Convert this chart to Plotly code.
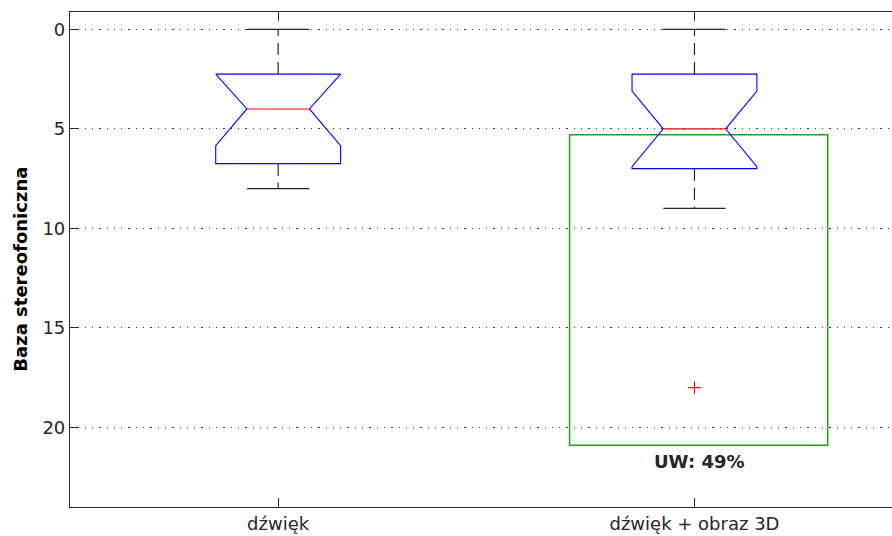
import plotly.graph_objects as go

# Notched box plot statistics per group
categories = ["dźwięk", "dźwięk + obraz 3D"]
positions = [1, 2]
q1 = [2.25, 2.25]
median = [4, 5]
q3 = [6.75, 7]
notch_top = [2.15, 3.1]
notch_bottom = [5.85, 6.9]
whisker_top = [0, 0]
whisker_bottom = [8, 9]

# Outlier and highlighted region for the second group
outlier_x = [2]
outlier_y = [18]
region_x = [1.70, 2.32]
region_y = [5.3, 20.9]
region_label = "UW: 49%"

y_ticks = [0, 5, 10, 15, 20]

BOX_HW = 0.15      # half width of a box
NOTCH_HW = 0.075   # half width at the notch / caps
INK = "#262626"
FONT = "DejaVu Sans"

fig = go.Figure()

box_x, box_y = [], []
med_x, med_y = [], []
wh_x, wh_y = [], []
cap_x, cap_y = [], []
for x, a, m, b, nt, nb, wt, wb in zip(positions, q1, median, q3, notch_top,
                                       notch_bottom, whisker_top, whisker_bottom):
    nt = max(nt, a)
    nb = min(nb, b)
    box_x += [x - BOX_HW, x + BOX_HW, x + BOX_HW, x + NOTCH_HW, x + BOX_HW, x + BOX_HW,
              x - BOX_HW, x - BOX_HW, x - NOTCH_HW, x - BOX_HW, x - BOX_HW, None]
    box_y += [a, a, nt, m, nb, b, b, nb, m, nt, a, None]
    med_x += [x - NOTCH_HW, x + NOTCH_HW, None]
    med_y += [m, m, None]
    wh_x += [x, x, None, x, x, None]
    wh_y += [a, wt, None, b, wb, None]
    cap_x += [x - NOTCH_HW, x + NOTCH_HW, None, x - NOTCH_HW, x + NOTCH_HW, None]
    cap_y += [wt, wt, None, wb, wb, None]

# highlighted region
fig.add_trace(go.Scatter(
    x=[region_x[0], region_x[1], region_x[1], region_x[0], region_x[0]],
    y=[region_y[0], region_y[0], region_y[1], region_y[1], region_y[0]],
    mode="lines", line=dict(color="#1fa01f", width=1.5), hoverinfo="skip"))

fig.add_trace(go.Scatter(x=wh_x, y=wh_y, mode="lines",
                         line=dict(color=INK, width=1.2, dash="12px,7px"), hoverinfo="skip"))
fig.add_trace(go.Scatter(x=cap_x, y=cap_y, mode="lines",
                         line=dict(color=INK, width=1.2), hoverinfo="skip"))
fig.add_trace(go.Scatter(x=box_x, y=box_y, mode="lines",
                         line=dict(color="#0000ff", width=1.1), hoverinfo="skip"))
fig.add_trace(go.Scatter(x=med_x, y=med_y, mode="lines",
                         line=dict(color="#ff0000", width=1.1), hoverinfo="skip"))
fig.add_trace(go.Scatter(x=outlier_x, y=outlier_y, mode="markers",
                         marker=dict(symbol="cross-thin", size=9,
                                     line=dict(color="#ff0000", width=1.1)),
                         hoverinfo="skip"))

fig.add_annotation(x=(region_x[0] + region_x[1]) / 2, y=region_y[1], xref="x", yref="y",
                   text=f"<b>{region_label}</b>", showarrow=False,
                   yanchor="top", yshift=-4,
                   font=dict(family=FONT, size=18, color=INK))

fig.add_annotation(x=-0.0605, y=0.48, xref="paper", yref="paper",
                   text="<b>Baza stereofoniczna</b>", textangle=-90, showarrow=False,
                   xanchor="center", yanchor="middle",
                   font=dict(family=FONT, size=18, color="#000000"))

fig.update_layout(
    width=892, height=536,
    margin=dict(l=70, r=0, t=12, b=29),
    paper_bgcolor="white", plot_bgcolor="white",
    showlegend=False,
    font=dict(family=FONT, size=18, color=INK),
    xaxis=dict(
        range=[0.5, 2.4745], tickvals=positions, ticktext=categories,
        showgrid=False, zeroline=False,
        showline=True, linecolor=INK, linewidth=1.2, mirror="ticks",
        ticks="inside", ticklen=9, tickwidth=1, tickcolor=INK,
        tickfont=dict(family=FONT, size=18, color=INK),
    ),
    yaxis=dict(
        range=[24, -0.87], tickvals=y_ticks,
        showgrid=True, gridcolor="#333333", gridwidth=1, griddash="1.3px,6px",
        zeroline=False,
        showline=True, linecolor=INK, linewidth=1.2,
        ticks="inside", ticklen=9, tickwidth=1, tickcolor=INK,
        tickfont=dict(family=FONT, size=18, color=INK),
    ),
)

fig.write_html("out.html")
